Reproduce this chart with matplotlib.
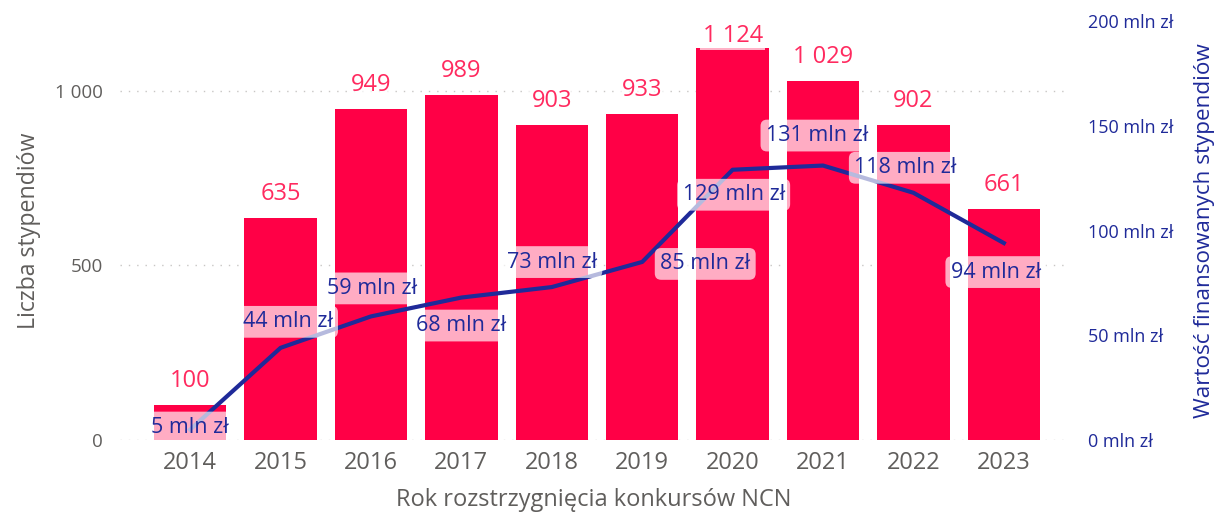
import matplotlib
matplotlib.use("Agg")
from matplotlib import pyplot as plt
import numpy as np

plt.rcParams['font.family'] = ['Open Sans', 'DejaVu Sans']

# data
years = ["2014", "2015", "2016", "2017", "2018", "2019", "2020", "2021", "2022", "2023"]
grants = [100, 635, 949, 989, 903, 933, 1124, 1029, 902, 661]
value_mln = [5, 44, 59, 68, 73, 85, 129, 131, 118, 94]

# label offsets for the line labels (pixels, dx / dy)
label_offsets = [(0, 2), (7, 26), (1, 28), (0, -28), (0, 25),
                 (63, -2), (1, -25), (-6, 30), (-8, 25), (-8, -29)]

bar_color = "#FF0046"
bar_text = "#FF2A5F"
navy = "#1F2A99"
grey = "#605E5C"


def fmt_thousands(v):
    return f"{v:,}".replace(",", " ")


fig = plt.figure(figsize=(12.21, 5.12), dpi=100)
ax = fig.add_axes([0.098, 0.1406, 0.776, 0.8184])
ax2 = ax.twinx()

x = np.arange(len(years))
ax.bar(x, grants, width=0.8, color=bar_color, zorder=2)
bar_labels = []
for xi, g in zip(x, grants):
    t = ax.annotate(fmt_thousands(g), (xi, g), xytext=(0, 13), textcoords="offset points",
                    ha="center", va="baseline", fontsize=17, color=bar_text, zorder=5,
                    bbox=dict(boxstyle="square,pad=0.1", facecolor="white",
                              edgecolor="none", alpha=0.7))
    bar_labels.append(t)

ax.set_xlim(-0.78, 9.7)
ax.set_ylim(0, 1200)
ax.set_yticks([0, 500, 1000])
ax.set_yticklabels([fmt_thousands(t) for t in [0, 500, 1000]])
ax.set_xticks(x)
ax.set_xticklabels(years)
ax.tick_params(axis="x", length=0, labelsize=17, labelcolor=grey, pad=8)
ax.tick_params(axis="y", length=0, labelsize=13.5, labelcolor=grey, pad=12)
ax.grid(axis="y", color="#C8C6C4", linestyle=(0, (1, 5)), linewidth=1, zorder=0)
for s in ax.spines.values():
    s.set_visible(False)
ax.set_ylabel("Liczba stypendiów", fontsize=16.7, color=grey, labelpad=10)
ax.set_xlabel("Rok rozstrzygnięcia konkursów NCN", fontsize=17, color=grey, labelpad=9)

ax2.plot(x, value_mln, color=navy, linewidth=3, solid_joinstyle="round", zorder=3)
for xi, v, (dx, dy) in zip(x, value_mln, label_offsets):
    ax2.annotate(f"{v} mln zł", (xi, v), xytext=(dx * 0.72, dy * 0.72),
                 textcoords="offset points", ha="center", va="center",
                 fontsize=15.5, color=navy, zorder=4,
                 bbox=dict(boxstyle="round,pad=0.25,rounding_size=0.3",
                           facecolor="white", edgecolor="none", alpha=0.68))
ax2.set_ylim(0, 200)
ax2.set_yticks([0, 50, 100, 150, 200])
ax2.set_yticklabels([f"{t} mln zł" for t in [0, 50, 100, 150, 200]])
ax2.tick_params(axis="y", length=0, labelsize=13, labelcolor=navy, pad=15)
for s in ax2.spines.values():
    s.set_visible(False)
ax2.set_ylabel("Wartość finansowanych stypendiów", fontsize=16.2, color=navy, labelpad=15)

# keep bar labels inside the plot area (like the original does for the tallest bar)
fig.canvas.draw()
renderer = fig.canvas.get_renderer()
ax_top = ax.get_window_extent(renderer).y1
for t in bar_labels:
    bb = t.get_window_extent(renderer)
    if bb.y1 > ax_top - 3:
        shift = (bb.y1 - ax_top + 3) * 72 / fig.dpi
        ox, oy = t.xyann
        t.xyann = (ox, oy - shift)

fig.savefig("out.png", dpi=100)
